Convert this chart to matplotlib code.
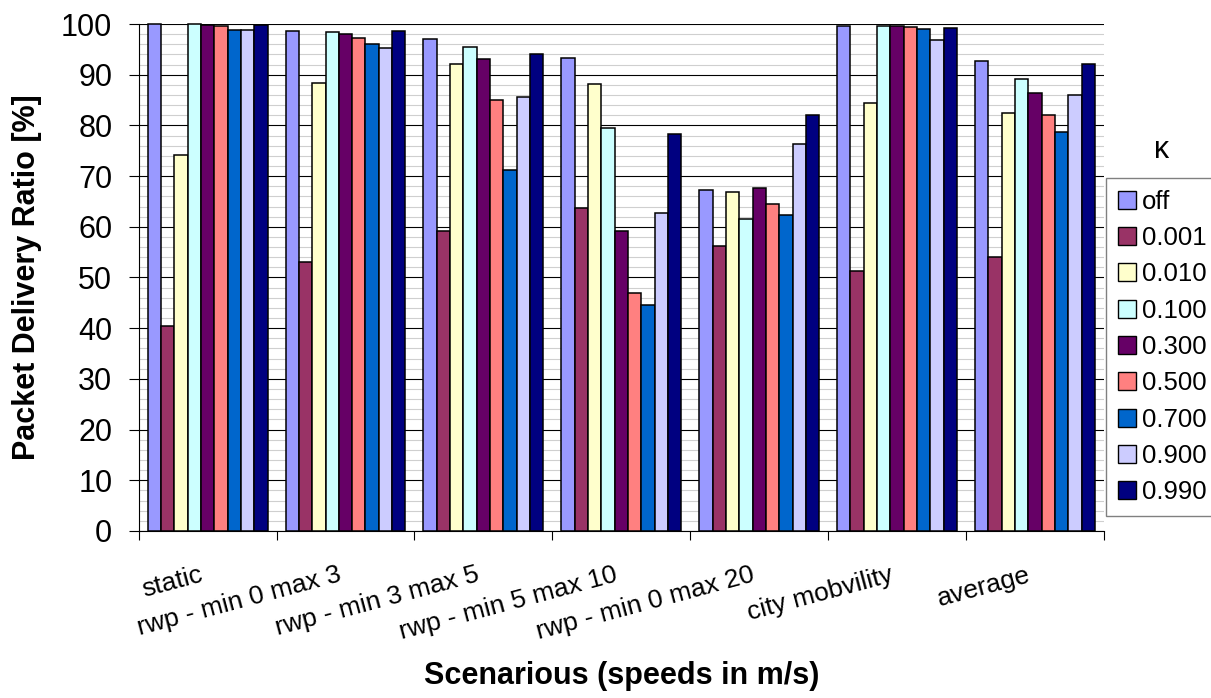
import numpy as np
import matplotlib
matplotlib.use("Agg")
import matplotlib.pyplot as plt
from matplotlib.patches import Patch
from matplotlib.transforms import ScaledTranslation
from matplotlib.ticker import MultipleLocator

plt.rcParams['font.family'] = ['Liberation Sans', 'DejaVu Sans']

scenarios = ["static", "rwp - min 0 max 3", "rwp - min 3 max 5",
             "rwp - min 5 max 10", "rwp - min 0 max 20", "city mobvility",
             "average"]
kappa_labels = ["off", "0.001", "0.010", "0.100", "0.300", "0.500",
                "0.700", "0.900", "0.990"]

# packet delivery ratio [%] per scenario, one list per kappa setting
pdr_off = [100.0, 98.7, 97.1, 93.3, 67.3, 99.7, 92.7]
pdr_0001 = [40.5, 53.1, 59.2, 63.8, 56.3, 51.2, 54.0]
pdr_0010 = [74.1, 88.3, 92.1, 88.1, 66.9, 84.5, 82.4]
pdr_0100 = [100.0, 98.4, 95.5, 79.5, 61.5, 99.7, 89.1]
pdr_0300 = [99.9, 98.1, 93.1, 59.2, 67.7, 99.6, 86.3]
pdr_0500 = [99.7, 97.3, 85.1, 46.9, 64.4, 99.5, 82.1]
pdr_0700 = [98.9, 96.1, 71.2, 44.5, 62.4, 99.1, 78.7]
pdr_0900 = [98.9, 95.2, 85.6, 62.8, 76.3, 96.9, 86.0]
pdr_0990 = [99.9, 98.7, 94.0, 78.3, 82.0, 99.2, 92.1]

series = [pdr_off, pdr_0001, pdr_0010, pdr_0100, pdr_0300,
          pdr_0500, pdr_0700, pdr_0900, pdr_0990]
colors = ["#9999FF", "#993366", "#FFFFCC", "#CCFFFF", "#660066",
          "#FF8080", "#0066CC", "#CCCCFF", "#000080"]

fig = plt.figure(figsize=(12.11, 6.98), dpi=100)
ax = fig.add_axes([0.1145, 0.2393, 0.7971, 0.7263])

x = np.arange(len(scenarios))
n = len(series)
w = 0.0966
for i, (vals, col) in enumerate(zip(series, colors)):
    ax.bar(x + (i - (n - 1) / 2) * w, vals, w, color=col,
           edgecolor="black", linewidth=1.1, zorder=3, clip_on=False)

ax.set_xlim(-0.5, len(scenarios) - 0.5)
ax.set_ylim(0, 100)

# y axis: labelled every 10, light grid every 2
ax.yaxis.set_major_locator(MultipleLocator(10))
ax.yaxis.set_minor_locator(MultipleLocator(2))
ax.grid(axis="y", which="major", color="black", linewidth=0.8, zorder=1)
ax.grid(axis="y", which="minor", color="#CFCFCF", linewidth=0.8, zorder=0)
ax.tick_params(axis="y", which="major", direction="out", length=7,
               width=0.8, pad=12, labelsize=22)
ax.tick_params(axis="y", which="minor", length=0)

# x axis: tick marks between groups, labels at group centres
ax.set_xticks(x)
ax.set_xticks(np.arange(-0.5, len(scenarios), 1.0), minor=True)
ax.tick_params(axis="x", which="major", length=0, pad=23, labelsize=19)
ax.tick_params(axis="x", which="minor", direction="out", length=6.5,
               width=0.8)
ax.set_xticklabels(scenarios, rotation=15, ha="right", va="top",
                   rotation_mode="anchor")
shift = ScaledTranslation(-8 / 100, 0, fig.dpi_scale_trans)
for lab in ax.get_xticklabels():
    lab.set_transform(lab.get_transform() + shift)

for side in ("top", "right"):
    ax.spines[side].set_visible(False)
for side in ("left", "bottom"):
    ax.spines[side].set_linewidth(0.8)
ax.set_axisbelow(True)

ax.set_ylabel("Packet Delivery Ratio [%]", fontsize=22, fontweight="bold",
              labelpad=14)
fig.text(0.513, 0.02, "Scenarious (speeds in m/s)", fontsize=22,
         fontweight="bold", ha="center", va="baseline")

handles = [Patch(facecolor=c, edgecolor="black", linewidth=1.0)
           for c in colors]
leg = fig.legend(handles, kappa_labels, loc="upper left",
                 bbox_to_anchor=(0.9133, 0.745),
                 bbox_transform=fig.transFigure, borderaxespad=0,
                 fontsize=18.5, handlelength=0.7, handleheight=0.7,
                 handletextpad=0.25, labelspacing=0.48, borderpad=0.45,
                 fancybox=False, framealpha=1, edgecolor="#808080")
leg.get_frame().set_linewidth(1.0)
fig.text(0.959, 0.785, "κ", fontsize=22, ha="center", va="center")

fig.savefig("out.png", dpi=100)
